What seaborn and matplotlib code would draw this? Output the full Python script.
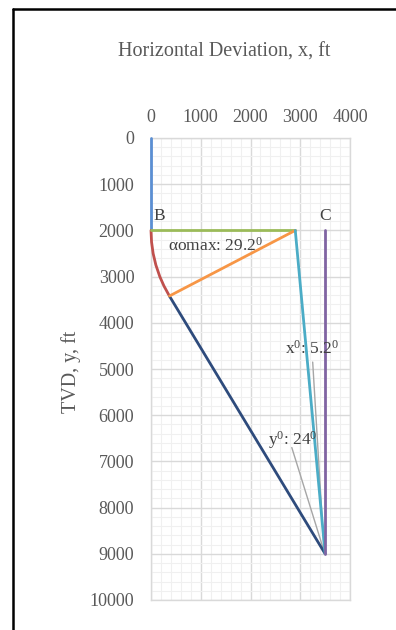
import numpy as np
import pandas as pd
import matplotlib
matplotlib.use("Agg")
import matplotlib.pyplot as plt
from matplotlib.lines import Line2D
from matplotlib.ticker import MultipleLocator
import seaborn as sns

# ---- data ----
vertical_x = [0, 0]
vertical_y = [0, 2000]
build_x = [0, 11, 43, 98, 177, 259, 370]
build_y = [2000, 2250, 2500, 2750, 3000, 3200, 3420]
tangent_x = [370, 3500]
tangent_y = [3420, 9000]
radius_h_x = [0, 2900]
radius_h_y = [2000, 2000]
radius_r_x = [2900, 370]
radius_r_y = [2000, 3420]
bc_x = [2900, 3500]
bc_y = [2000, 9000]
target_x = [3500, 3500]
target_y = [2000, 9000]
lead_x_x = [3250, 3480]
lead_x_y = [4850, 8950]
lead_y_x = [2830, 3480]
lead_y_y = [6700, 8950]

x_ticks = [0, 1000, 2000, 3000, 4000]
y_ticks = [0, 1000, 2000, 3000, 4000, 5000, 6000, 7000, 8000, 9000, 10000]

segments = [
    ("vertical", vertical_x, vertical_y, "#5B8FD3"),
    ("build", build_x, build_y, "#C0504D"),
    ("tangent", tangent_x, tangent_y, "#2E4B7C"),
    ("horiz", radius_h_x, radius_h_y, "#9BBB59"),
    ("radius", radius_r_x, radius_r_y, "#F79646"),
    ("bc", bc_x, bc_y, "#4BACC6"),
    ("target", target_x, target_y, "#8064A2"),
]
leaders = [("leadx", lead_x_x, lead_x_y), ("leady", lead_y_x, lead_y_y)]

rows = []
for name, xs, ys, _ in segments:
    for i, (x, y) in enumerate(zip(xs, ys)):
        rows.append({"seg": name, "x": x, "y": y, "order": i})
df = pd.DataFrame(rows)
lrows = []
for name, xs, ys in leaders:
    for i, (x, y) in enumerate(zip(xs, ys)):
        lrows.append({"seg": name, "x": x, "y": y, "order": i})
ldf = pd.DataFrame(lrows)

sns.set_theme(style="white")
plt.rcParams["font.family"] = ["Liberation Serif", "DejaVu Serif"]
plt.rcParams["mathtext.fontset"] = "custom"
plt.rcParams["mathtext.rm"] = "Liberation Serif"
plt.rcParams["mathtext.it"] = "Liberation Serif"

fig = plt.figure(figsize=(3.96, 6.30), dpi=100)
ax = fig.add_axes([151 / 396, 1 - 600 / 630, 199 / 396, 462 / 630])

TXT = "#595959"

ax.xaxis.set_minor_locator(MultipleLocator(200))
ax.yaxis.set_minor_locator(MultipleLocator(200))
ax.grid(which="minor", color="#F0F0F0", lw=0.8, zorder=0)
ax.grid(which="major", color="#D9D9D9", lw=1.0, zorder=0)
ax.set_axisbelow(True)

sns.lineplot(data=ldf, x="x", y="y", hue="seg", palette=["#A6A6A6", "#A6A6A6"],
             sort=False, estimator=None, lw=1.0, legend=False, ax=ax)
sns.lineplot(data=df, x="x", y="y", hue="seg",
             palette=[c for *_, c in segments], sort=False, estimator=None,
             lw=2.0, legend=False, ax=ax)
for ln in ax.get_lines():
    ln.set_clip_on(False)
    ln.set_zorder(3)

ax.set_xlim(0, 4000)
ax.set_ylim(10000, 0)
ax.set_xticks(x_ticks)
ax.set_yticks(y_ticks)
ax.xaxis.tick_top()
ax.tick_params(axis="both", which="both", length=0, labelsize=13, colors=TXT)
ax.tick_params(axis="y", pad=12)
ax.tick_params(axis="x", pad=9)
ax.set_xlabel("")
ax.set_ylabel("")
for s in ax.spines.values():
    s.set_color("#D9D9D9")
    s.set_linewidth(1.0)
    s.set_zorder(1)

ax.text(40, 1860, "B", fontsize=12.5, color="#404040", ha="left", va="bottom")
ax.text(3500, 1860, "C", fontsize=12.5, color="#404040", ha="center", va="bottom")
ax.text(340, 2330, "\u03b1omax: 29.2$^0$", fontsize=12.5, color="#404040", ha="left", va="center")
ax.text(2700, 4560, "x$^0$: 5.2$^0$", fontsize=12.5, color="#404040", ha="left", va="center")
ax.text(2350, 6540, "y$^0$: 24$^0$", fontsize=12.5, color="#404040", ha="left", va="center")

fig.text(224 / 396, 1 - 52 / 630, "Horizontal Deviation, x, ft", fontsize=14.5,
         color=TXT, ha="center", va="center")
fig.text(71 / 396, 1 - 372 / 630, "TVD, y, ft", fontsize=14.5, color=TXT,
         rotation=90, ha="center", va="center")

# outer black frame (left and top edges visible)
fig.add_artist(Line2D([13 / 396, 13 / 396], [0, 1 - 9 / 630], color="black", lw=1.8,
                      transform=fig.transFigure))
fig.add_artist(Line2D([13 / 396, 1], [1 - 9 / 630, 1 - 9 / 630], color="black", lw=1.8,
                      transform=fig.transFigure))

fig.savefig("out.png", dpi=100)
